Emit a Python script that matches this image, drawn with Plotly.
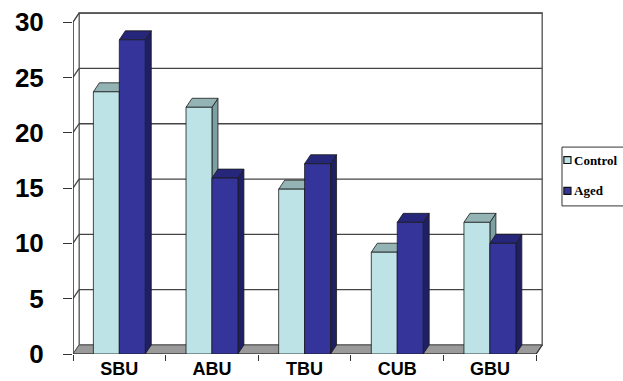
import plotly.graph_objects as go

categories = ["SBU", "ABU", "TBU", "CUB", "GBU"]
control = [23.7, 22.3, 14.9, 9.2, 11.9]
aged = [28.4, 15.9, 17.2, 11.9, 10.0]
y_ticks = [0, 5, 10, 15, 20, 25, 30]
series_names = ["Control", "Aged"]

# pseudo-3D depth (data units)
DX = 0.065
DY = 0.813
BW = 0.28
YMAX = 30

C_FRONT, C_TOP, C_SIDE = "#BDE3E7", "#93B3B4", "#7C9FA1"
A_FRONT, A_TOP, A_SIDE = "#34349A", "#26267A", "#1F1F63"
EDGE = "#1a1a1a"

xs = list(range(len(categories)))

def poly(pts):
    return "M " + " L ".join(f"{x},{y}" for x, y in pts) + " Z"

shapes = []
def add(path, fill, line="#555", width=1):
    shapes.append(dict(type="path", path=path, xref="x", yref="y", fillcolor=fill,
                       line=dict(color=line, width=width), layer="below"))

def add_line(x0, y0, x1, y1, color="#444", width=1.3):
    shapes.append(dict(type="line", x0=x0, y0=y0, x1=x1, y1=y1, xref="x", yref="y",
                       line=dict(color=color, width=width), layer="below"))

xl, xr = -0.5, len(categories) - 0.5
# back wall
add(poly([(xl + DX, DY), (xr + DX, DY), (xr + DX, YMAX + DY), (xl + DX, YMAX + DY)]), "white", "#666", 1.5)
# left side wall
add(poly([(xl, 0), (xl + DX, DY), (xl + DX, YMAX + DY), (xl, YMAX)]), "white", "#555", 1)
# floor
add(poly([(xl, 0), (xr, 0), (xr + DX, DY), (xl + DX, DY)]), "#9A9A9A", "#555", 1)
# grid lines
for v in y_ticks[1:]:
    add_line(xl + DX, v + DY, xr + DX, v + DY)
    add_line(xl, v, xl + DX, v + DY)
# front axis lines
add_line(xl, 0, xl, YMAX, "#333", 1.2)
add_line(xl, 0, xr, 0, "#333", 1.2)
add_line(xr, 0, xr + DX, DY, "#333", 1.2)

# bar faces (side + top), control then aged
for i, (c, a) in enumerate(zip(control, aged)):
    for x0, v, top, side in ((i - BW, c, C_TOP, C_SIDE), (i, a, A_TOP, A_SIDE)):
        x1 = x0 + BW
        add(poly([(x1, 0), (x1 + DX, DY), (x1 + DX, v + DY), (x1, v)]), side, EDGE, 0.8)
        add(poly([(x0, v), (x0 + DX, v + DY), (x1 + DX, v + DY), (x1, v)]), top, EDGE, 0.8)

# legend box (drawn manually to match the compact original legend)
annotations = []
shapes.append(dict(type="rect", xref="paper", yref="paper", x0=1.036, x1=1.175, y0=0.433, y1=0.605,
                   line=dict(color="#333", width=1), fillcolor="white", layer="above"))
for name, col, yc in ((series_names[0], C_FRONT, 0.567), (series_names[1], A_FRONT, 0.477)):
    shapes.append(dict(type="rect", xref="paper", yref="paper", x0=1.040, x1=1.055,
                       y0=yc - 0.010, y1=yc + 0.010, fillcolor=col,
                       line=dict(color="#111", width=1.2), layer="above"))
    annotations.append(dict(text=name, xref="paper", yref="paper", x=1.058, y=yc,
                            xanchor="left", yanchor="middle", showarrow=False,
                            font=dict(family="Liberation Serif", size=13, color="black", weight="bold")))

fig = go.Figure()
fig.add_trace(go.Bar(name=series_names[0], x=xs, y=control, width=BW, offset=-BW,
                     marker=dict(color=C_FRONT, line=dict(color=EDGE, width=0.8))))
fig.add_trace(go.Bar(name=series_names[1], x=xs, y=aged, width=BW, offset=0,
                     marker=dict(color=A_FRONT, line=dict(color=EDGE, width=0.8))))

fig.update_layout(
    width=623, height=381,
    margin=dict(l=73, r=78, t=12, b=27, autoexpand=False),
    paper_bgcolor="white", plot_bgcolor="white",
    barmode="overlay",
    shapes=shapes,
    annotations=annotations,
    showlegend=False,
    xaxis=dict(range=[xl, xr + DX + 0.03], tickvals=xs, ticktext=categories,
               showgrid=False, zeroline=False, showline=False, ticks="", automargin=False,
               ticklabelstandoff=2,
               tickfont=dict(family="Liberation Sans", size=18, color="black", weight="bold"),
               minor=dict(tick0=-0.5, dtick=1, ticks="outside", ticklen=6, tickcolor="#333")),
    yaxis=dict(range=[0, YMAX + DY + 0.1], tickvals=y_ticks, showgrid=False, zeroline=False,
               showline=False, ticks="outside", ticklen=9, tickcolor="#333", tickwidth=1.2,
               ticklabelstandoff=14, automargin=False,
               tickfont=dict(family="Liberation Sans", size=26, color="black", weight="bold")),
)

fig.write_html("out.html")
